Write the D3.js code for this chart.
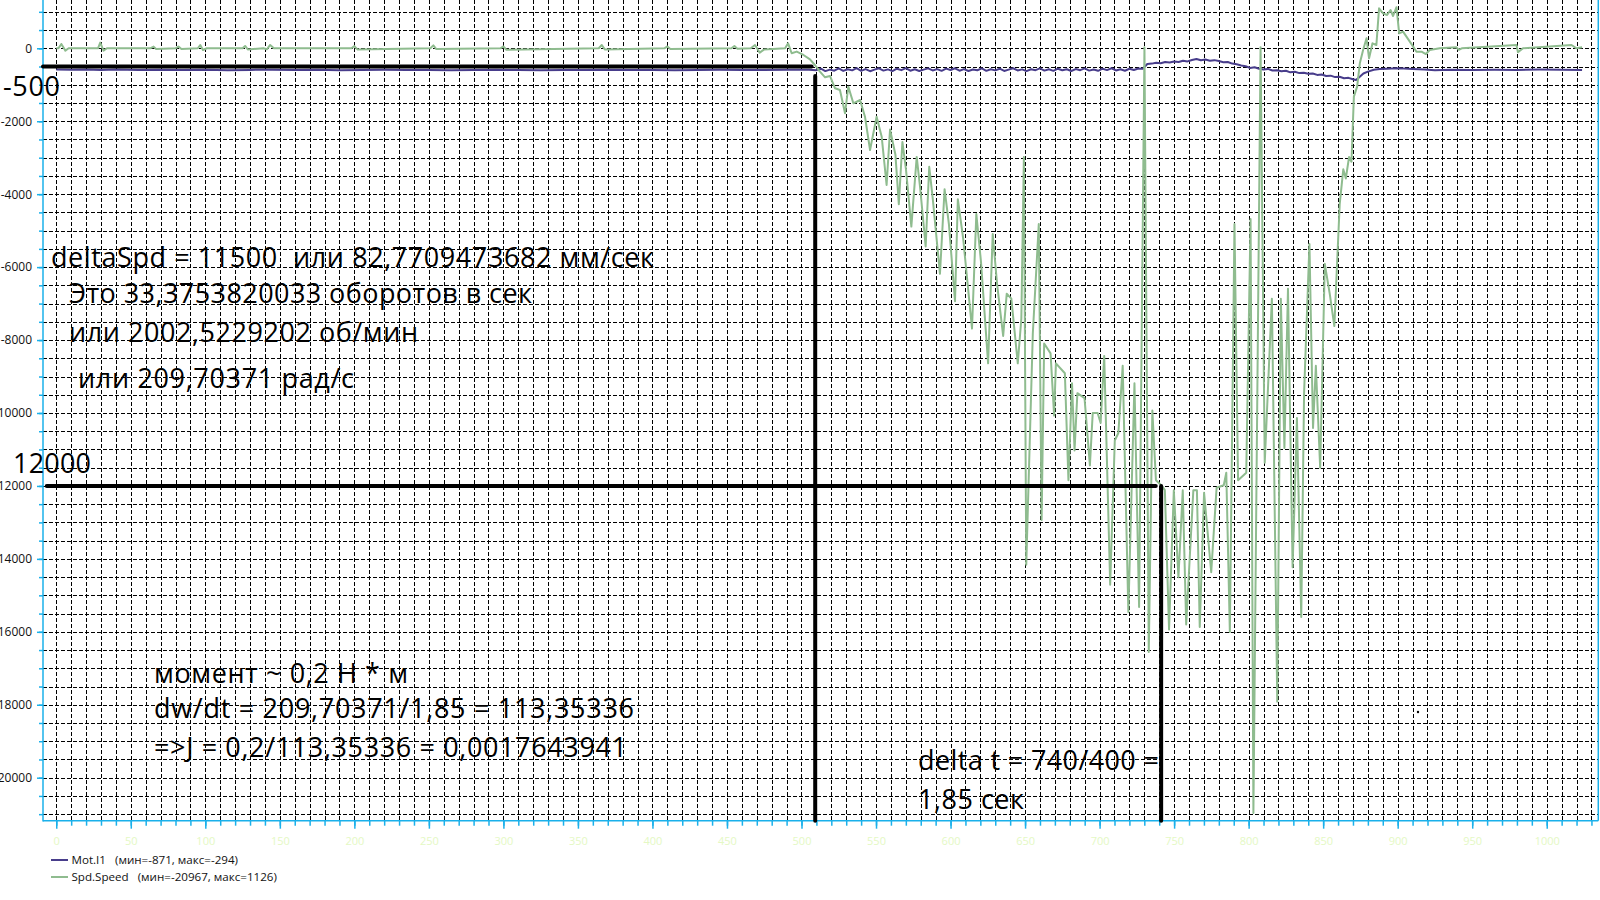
<!DOCTYPE html>
<html><head><meta charset="utf-8">
<script src="https://cdn.jsdelivr.net/npm/d3@7/dist/d3.min.js"></script>
<style>html,body{margin:0;padding:0;background:#fff;overflow:hidden}</style>
</head><body>
<svg id="chart" width="1600" height="900"></svg>
<script>
// ---------- DATA ----------
// Spd.Speed: [sample index, value]
const spdSpeed = [[0,0],[1.5,0],[3.4,119],[6.1,-64],[8.3,0],[28,0],[29.5,155],[31.7,-64],[34,0],[63,0],[65.3,46],[67,-20],[80,0],[82,46],[84,-20],[95,0],[96.6,91],[98.4,-46],[101,0],[125,0],[126.7,64],[128.5,-30],[139,0],[141.3,-27],[143.5,91],[146,0],[198,0],[200,60],[202,-30],[251,0],[253,80],[255,-20],[298,0],[300,50],[302,-40],[364,0],[366,90],[368,-30],[408,0],[410,50],[412,-20],[453,0],[455,60],[457,-10],[466,0],[468.8,90],[472,-120],[475,-30],[489,0],[491,137],[493.4,-137],[496.8,-91],[501.3,-183],
[505.7,-302],[509,-458],[512.4,-641],[515.8,-796],[519.1,-759],[522.5,-1097],[525.8,-1143],[529.2,-1783],[531.4,-1052],[534.8,-1509],[539.3,-1418],[542.6,-1875],[546,-2789],[550.4,-1875],[553.8,-2424],[557.1,-3748],[559.4,-2228],[563,-2910],[565.3,-4274],[567.7,-2569],[570.1,-3319],[573.7,-4888],[577.3,-2978],[579.7,-3865],[583.3,-5433],[585.7,-3251],[588.1,-4137],[592.9,-6183],[596.0,-3865],[598.9,-4819],[603.0,-6933],[604.9,-4137],[608.5,-5228],[614.4,-7684],[617.3,-4547],[620.4,-5842],[625.2,-8638],[628.3,-5092],[631.2,-6456],[635.3,-7888],[637.7,-6729],[640.8,-6865],[645.1,-8638],[647.5,-7411],[649.2,-2978],[650.8,-14162],[655.2,-7820],[659.2,-4819],[661.1,-12935],[662.8,-8093],[667.1,-8366],[669.5,-10071],[670.7,-8638],[676.7,-8911],[679.1,-11844],[681.5,-9184],[683.2,-11026],[685.1,-9457],[689.9,-9593],[693.5,-11435],[695.4,-10002],[698.7,-10002],[700.7,-10275],[703.1,-8434],[707.1,-14708],[710.2,-10753],[712.6,-10548],[715.5,-8707],[719.3,-15459],[723.4,-9184],[726.5,-15322],[730.1,30],[733.0,-16550],[735.4,-9934],[737.8,-11844],[741.4,-11980],[743.8,-12117],[746.6,-15936],[749.8,-12117],[752.9,-14504],[755.8,-12117],[758.1,-15800],[762.9,-12117],[765.3,-12117],[767.2,-15868],[770.1,-12185],[774.9,-14367],[778.5,-12049],[783.3,-11980],[785.0,-11639],[787.4,-16004],[790.5,-4819],[792.9,-11844],[798.4,-11639],[801.3,-4683],[803.2,-20967],[808.0,30],[810.8,-11366],[815.6,-6865],[819.2,-17914],[821.6,-6865],[824.0,-10957],[826.4,-6592],[829.5,-14231],[832.4,-10139],[835.3,-15595],[837.2,-9457],[840.8,-5365],[843.2,-10412],[845.1,-8707],[848.0,-11503],[851.1,-5910],[854.4,-6729],[857.5,-7616],[861.1,-4274],[863.5,-3319],[865.2,-3571],[867.4,-2980],[869.0,-3109],[870.6,-1327],[872.8,-1052],[874.6,-413],[876.8,-47],[879.1,273],[880.8,-276],[883.1,136],[885.7,90],[887.5,1095],[890.2,958],[892.9,913],[895.2,1050],[896.9,885],[899.2,1126],[901.0,410],[903.6,456],[910.4,44],[912.6,-93],[916.0,-93],[918.9,-157],[921.5,-47],[928.2,0],[939.4,26],[941,-40],[943,0],[979.7,90],[980.7,-111],[984.1,0],[1016.6,90],[1020,0],[1023.7,26]];

// Mot.I1: [sample index, value]
const motI1 = [[0,-585],[10,-590],[20,-580],[30,-592],[40,-585],[55,-598],[70,-588],[85,-595],[100,-590],[115,-600],[130,-592],[145,-588],[160,-596],[175,-590],[190,-602],[205,-594],[220,-590],[235,-598],[250,-592],[265,-600],[280,-595],[295,-588],[310,-596],[325,-600],[340,-592],[355,-598],[370,-590],[385,-596],[400,-592],[415,-600],[430,-594],[445,-590],[460,-598],[475,-592],[490,-588],[505,-590],
[510,-600],[513,-560],[516,-625],[519,-585],[522,-615],[525,-550],[528,-620],[531,-575],[534,-605],[537,-545],[540,-618],[543,-570],[546,-628],[549,-585],[552,-548],[555,-612],[558,-578],[561,-625],[564,-560],[567,-600],[570,-545],[573,-615],[576,-575],[579,-622],[582,-585],[585,-550],[588,-608],[591,-572],[594,-618],[597,-558],[600,-596],[603,-548],[606,-615],[609,-570],[612,-622],[615,-580],[618,-602],[621,-552],[624,-618],[627,-575],[630,-605],[633,-560],[636,-622],[639,-585],[642,-548],[645,-608],[648,-578],[651,-625],[654,-575],[657,-600],[660,-550],[663,-612],[666,-575],[669,-618],[672,-560],[675,-602],[678,-575],[681,-622],[684,-570],[687,-600],[690,-552],[693,-612],[696,-580],[699,-618],[702,-560],[705,-598],[708,-548],[711,-608],[714,-575],[717,-615],[720,-562],[723,-595],[726,-555],
[729,-560],[732,-430],[735,-420],[738,-395],[741,-410],[744,-375],[747,-390],[750,-360],[753,-378],[756,-340],[759,-360],[762,-320],[765,-294],[768,-330],[771,-310],[774,-340],[777,-325],[780,-350],[783,-385],[786,-375],[789,-420],[792,-440],[795,-470],[798,-490],[801,-540],[804,-520],[807,-560],[810,-580],[813,-565],[816,-610],[819,-600],[822,-630],[825,-615],[828,-660],[831,-645],[834,-680],[837,-670],[840,-700],[843,-690],[846,-730],[849,-720],[852,-760],[855,-750],[858,-790],[861,-780],[864,-820],[867,-810],[870,-850],[872,-871],[874,-800],[877,-690],[880,-640],[884,-590],[888,-570],[893,-560],[899,-545],[904,-555],[910,-565],[918,-580],[925,-600],[935,-590],[950,-595],[965,-588],[980,-592],[995,-585],[1010,-590],[1023.7,-594]];

const seriesNames = ["Mot.I1", "Spd.Speed"];
const legendLabels = ["Mot.I1   (мин=-871, макс=-294)", "Spd.Speed   (мин=-20967, макс=1126)"];
const xMajorTicks = d3.range(0, 1001, 50);
const xMinorTicks = d3.range(0, 1031, 10);
const yMajorTicks = d3.range(0, -20001, -2000);
const yMinorTicks = d3.range(1000, -21001, -500);

// annotation lines in data units: [x1, y1, x2, y2]
const markerLines = [
  [-8.9, -500, 506.8, -500],
  [509.2, -760, 509.2, -21179],
  [-6.4, -12000, 737.7, -12000],
  [741.3, -12000, 741.3, -21179]
];
const noteTexts = [
  "-500", "12000",
  "deltaSpd = 11500  или 82,7709473682 мм/сек",
  "Это 33,3753820033 оборотов в сек",
  "или 2002,5229202 об/мин",
  "или 209,70371 рад/с",
  "момент ~ 0,2 Н * м",
  "dw/dt = 209,70371/1,85 = 113,35336",
  "=>J = 0,2/113,35336 = 0,0017643941",
  "delta t = 740/400 =",
  "1,85 сек"
];

// ---------- LAYOUT / STYLE ----------
const notePos = [ // [x, baseline y, width]
  [3, 96, 57], [13, 473, 78],
  [51, 267, 603], [69, 303, 463], [69, 342, 349], [78, 388, 276],
  [154, 683, 254], [154, 718, 480], [154, 757, 473],
  [918, 770, 241], [918, 809, 106]
];
const AXIS = "#1ab0ea";
const svg = d3.select("#chart");
const pL = 43, pR = 1598.3, pT = 0, pB = 820.7;
const x = d3.scaleLinear().domain([-8.9, 1034.6]).range([pL, pR]);
const y = d3.scaleLinear().domain([-21179, 1324]).range([pB, pT]);

// grid
const grid = svg.append("g");
grid.selectAll("line.v").data(xMinorTicks).join("line")
  .attr("x1", d => Math.round(x(d)) + 0.5).attr("x2", d => Math.round(x(d)) + 0.5)
  .attr("y1", pT).attr("y2", pB)
  .attr("stroke", "#000").attr("stroke-width", 1).attr("stroke-dasharray", "4,2");
grid.selectAll("line.h").data(yMinorTicks).join("line")
  .attr("y1", d => Math.round(y(d)) + 0.5).attr("y2", d => Math.round(y(d)) + 0.5)
  .attr("x1", pL).attr("x2", pR)
  .attr("stroke", "#000").attr("stroke-width", 1).attr("stroke-dasharray", "4,2");

// clip
svg.append("clipPath").attr("id", "clip").append("rect")
  .attr("x", pL).attr("y", pT).attr("width", pR - pL).attr("height", pB - pT);

const line = d3.line().x(d => x(d[0])).y(d => y(d[1]));
const plot = svg.append("g").attr("clip-path", "url(#clip)");
plot.append("path").datum(motI1).attr("d", line)
  .attr("fill", "none").attr("stroke", "#483d8b").attr("stroke-width", 2).attr("stroke-linejoin", "round");
plot.append("path").datum(spdSpeed).attr("d", line)
  .attr("fill", "none").attr("stroke", "#8fbc8f").attr("stroke-width", 2).attr("stroke-linejoin", "round");

// axes
function styleAxis(g) {
  g.select(".domain").remove();
  g.selectAll("line").attr("stroke", AXIS).attr("stroke-width", 1.5);
}
const yMinorAxis = svg.append("g").attr("transform", `translate(${pL},0)`)
  .call(d3.axisLeft(y).tickValues(yMinorTicks).tickSize(4).tickFormat(""));
styleAxis(yMinorAxis);
const yMajorAxis = svg.append("g").attr("transform", `translate(${pL},0)`)
  .call(d3.axisLeft(y).tickValues(yMajorTicks).tickSize(6).tickPadding(5).tickFormat(d => String(d)));
styleAxis(yMajorAxis);
yMajorAxis.selectAll("text").attr("font-family", "'Open Sans', sans-serif").attr("font-size", 12).attr("fill", "#111");

const xMinorAxis = svg.append("g").attr("transform", `translate(0,${pB})`)
  .call(d3.axisBottom(x).tickValues(xMinorTicks).tickSize(5).tickFormat(""));
styleAxis(xMinorAxis);
const xMajorAxis = svg.append("g").attr("transform", `translate(0,${pB})`)
  .call(d3.axisBottom(x).tickValues(xMajorTicks).tickSize(8).tickPadding(9).tickFormat(d => String(d)));
styleAxis(xMajorAxis);
xMajorAxis.selectAll("text").attr("font-family", "'Open Sans', sans-serif").attr("font-size", 11).attr("fill", "#e4f8c4");

// axis frame lines
svg.append("line").attr("x1", pL).attr("x2", pL).attr("y1", pT).attr("y2", pB + 0.75)
  .attr("stroke", AXIS).attr("stroke-width", 1.5);
svg.append("line").attr("x1", pL).attr("x2", pR).attr("y1", pB).attr("y2", pB)
  .attr("stroke", AXIS).attr("stroke-width", 1.5);
svg.append("line").attr("x1", pR).attr("x2", pR).attr("y1", pT).attr("y2", pB)
  .attr("stroke", AXIS).attr("stroke-width", 1.5);

// annotation lines
svg.append("g").selectAll("line").data(markerLines).join("line")
  .attr("x1", d => x(d[0])).attr("y1", d => y(d[1]))
  .attr("x2", d => x(d[2])).attr("y2", d => y(d[3]))
  .attr("stroke", "#000").attr("stroke-width", 4).attr("stroke-linecap", "round");

// annotation texts
svg.append("g").selectAll("text").data(noteTexts).join("text")
  .attr("x", (d, i) => notePos[i][0]).attr("y", (d, i) => notePos[i][1])
  .attr("textLength", (d, i) => notePos[i][2])
  .style("white-space", "pre")
  .attr("font-family", "'Open Sans', sans-serif").attr("font-size", 27).attr("fill", "#000")
  .text(d => d);
svg.append("circle").attr("cx", 1418).attr("cy", 712).attr("r", 1.2).attr("fill", "#000");

// legend
const legendColors = ["#483d8b", "#8fbc8f"];
const lg = svg.append("g");
legendLabels.forEach((t, i) => {
  const ly = 860 + i * 17;
  lg.append("line").attr("x1", 51).attr("x2", 68).attr("y1", ly).attr("y2", ly)
    .attr("stroke", legendColors[i]).attr("stroke-width", 2);
  lg.append("text").attr("x", 71.5).attr("y", ly + 4).style("white-space", "pre")
    .attr("font-family", "'Open Sans', sans-serif").attr("font-size", 11.6).attr("fill", "#111")
    .text(t);
});
</script>
</body></html>
